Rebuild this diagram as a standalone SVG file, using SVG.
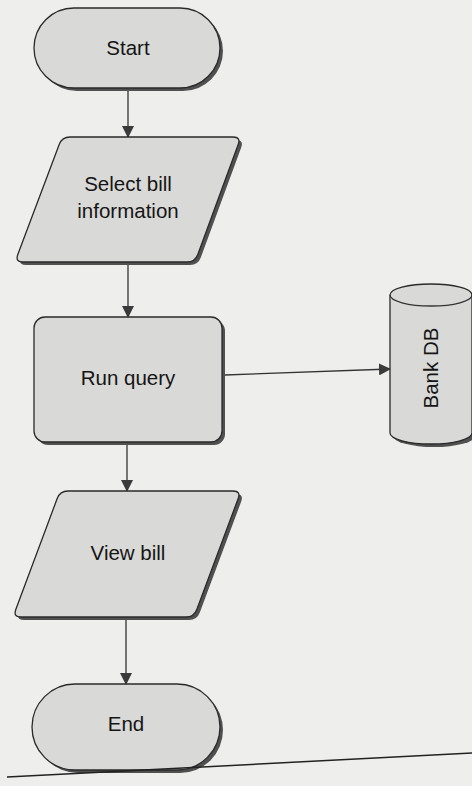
<svg xmlns="http://www.w3.org/2000/svg" width="472" height="786" viewBox="0 0 472 786">
<defs>
<style>
.bg{fill:#eeeeec}
.shape{fill:#d9d9d7;stroke:#2a2a2a;stroke-width:1.3}
.shadow{fill:#505050}
.lbl{font-family:"Liberation Sans",Arial,sans-serif;font-size:20.5px;fill:#151515;text-anchor:middle}
.conn{stroke:#333;stroke-width:1.3;fill:none}
</style>
<marker id="ah" markerWidth="12" markerHeight="12" refX="11" refY="6" orient="auto" markerUnits="userSpaceOnUse">
<path d="M0,0 L12,6 L0,12 Z" fill="#3a3a3a"/>
</marker>
</defs>
<rect class="bg" x="0" y="0" width="472" height="786"/>

<g id="connectors">
<line class="conn" x1="128" y1="90" x2="128" y2="137" marker-end="url(#ah)"/>
<line class="conn" x1="128" y1="265" x2="128" y2="317" marker-end="url(#ah)"/>
<line class="conn" x1="225" y1="375" x2="390" y2="369" marker-end="url(#ah)"/>
<line class="conn" x1="127" y1="445" x2="127" y2="491" marker-end="url(#ah)"/>
<line class="conn" x1="126" y1="620" x2="126" y2="684" marker-end="url(#ah)"/>
</g>

<g id="start">
<rect class="shadow" x="37" y="11" width="186" height="80" rx="40" ry="40"/>
<rect class="shape" x="34" y="8" width="186" height="80" rx="40" ry="40"/>
<text class="lbl" x="128" y="55">Start</text>
</g>

<g id="select-bill">
<path class="shadow" transform="translate(3,3)" d="M70,137 L233,137 Q241,137 238.2,144.5 L197.8,254.5 Q195,262 187,262 L23,262 Q15,262 17.8,254.5 L59.2,144.5 Q62,137 70,137 Z"/>
<path class="shape" d="M70,137 L233,137 Q241,137 238.2,144.5 L197.8,254.5 Q195,262 187,262 L23,262 Q15,262 17.8,254.5 L59.2,144.5 Q62,137 70,137 Z"/>
<text class="lbl" x="128" y="191">Select bill</text>
<text class="lbl" x="128" y="218">information</text>
</g>

<g id="run-query">
<rect class="shadow" x="37" y="320" width="188" height="125" rx="11" ry="11"/>
<rect class="shape" x="34" y="317" width="188" height="125" rx="11" ry="11"/>
<text class="lbl" x="128" y="385">Run query</text>
</g>

<g id="bank-db">
<path class="shadow" transform="translate(3,3)" d="M390,295 A41,11 0 0 1 472,295 L472,433 A41,11 0 0 1 390,433 Z"/>
<path class="shape" d="M390,295 A41,11 0 0 1 472,295 L472,433 A41,11 0 0 1 390,433 Z"/>
<path class="conn" d="M390,295 A41,11 0 0 0 472,295"/>
<text class="lbl" transform="translate(438,368) rotate(-90)" x="0" y="0">Bank DB</text>
</g>

<g id="view-bill">
<path class="shadow" transform="translate(3,3)" d="M68,491 L233,491 Q241,491 238.2,498.5 L196.8,609.5 Q194,617 186,617 L21,617 Q13,617 15.8,609.5 L57.2,498.5 Q60,491 68,491 Z"/>
<path class="shape" d="M68,491 L233,491 Q241,491 238.2,498.5 L196.8,609.5 Q194,617 186,617 L21,617 Q13,617 15.8,609.5 L57.2,498.5 Q60,491 68,491 Z"/>
<text class="lbl" x="128" y="560">View bill</text>
</g>

<g id="end">
<rect class="shadow" x="35" y="687" width="188" height="86" rx="43" ry="43"/>
<rect class="shape" x="32" y="684" width="188" height="86" rx="43" ry="43"/>
<text class="lbl" x="126" y="731">End</text>
</g>

<line x1="7" y1="777" x2="472" y2="753" stroke="#222" stroke-width="1.5"/>
</svg>
